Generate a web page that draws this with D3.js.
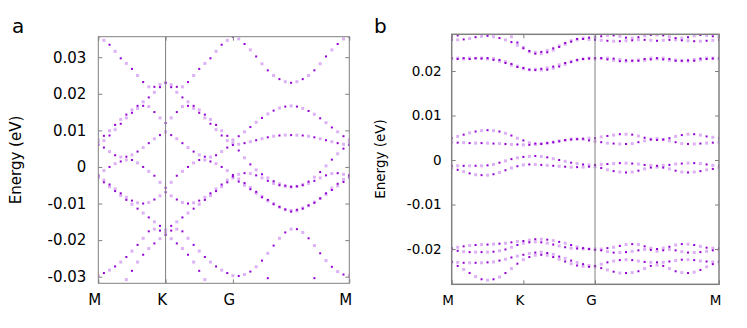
<!DOCTYPE html>
<html>
<head>
<meta charset="utf-8">
<script src="https://cdn.jsdelivr.net/npm/d3@7"></script>
<style>
body { margin: 0; background: #fff; }
</style>
</head>
<body>
<svg id="chart" width="747" height="328"></svg>
<script>
// band energies in meV, sampled on the k path M-K (12 steps), K-G (12 steps), G-M (20 steps)
var kLabels = ["M", "K", "G", "M"];
var kTicks = [0, 1, 2, 3.73];
var kSteps = [12, 12, 20];
var yTicksA = [-0.03, -0.02, -0.01, 0, 0.01, 0.02, 0.03];
var yTicksB = [-0.02, -0.01, 0, 0.01, 0.02];

// panel a
var bandA1 = [35.6,34.6,33.4,31.6,29.7,28.3,26.8,25.0,23.2,21.9,21.9,22.5,23.0,
  22.5,21.9,21.9,23.2,25.0,26.8,28.3,29.7,31.6,33.4,34.6,35.6,
  35.0,33.6,32.0,30.2,28.2,26.4,25.0,24.0,23.3,23.0,23.3,24.0,25.0,26.4,28.2,30.2,32.0,33.6,35.0,35.6];
var bandA2 = [7.4,8.5,9.9,11.5,13.0,14.3,15.6,16.7,17.8,19.0,20.4,21.8,23.0,
  21.8,20.4,19.0,17.8,16.7,15.6,14.3,13.0,11.5,9.9,8.5,7.4,
  8.4,9.6,10.9,12.2,13.4,14.5,15.4,16.1,16.5,16.7,16.5,16.0,15.3,14.4,13.3,12.1,10.8,9.6,8.4,7.4];
var bandA3 = [6.0,7.2,8.6,10.2,11.8,13.4,14.8,16.0,16.7,16.5,15.0,13.4,12.0,
  13.4,15.0,16.5,16.7,16.0,14.8,13.4,11.8,10.2,8.6,7.2,6.0,
  6.2,6.5,6.9,7.3,7.7,8.1,8.4,8.6,8.7,8.7,8.7,8.6,8.4,8.1,7.7,7.3,6.9,6.5,6.2,6.0];
var bandA4 = [6.6,5.3,4.2,3.2,2.7,2.8,3.3,4.2,5.3,6.5,7.7,8.7,9.6,
  8.7,7.7,6.5,5.3,4.2,3.3,2.8,2.7,3.2,4.2,5.3,6.6,
  4.5,2.5,0.7,-0.8,-2.0,-3.0,-3.9,-4.6,-5.1,-5.5,-5.3,-4.8,-4.0,-2.8,-1.4,0.3,2.0,3.6,5.0,6.6];
var bandA5 = [-2.2,-1.0,0.0,0.9,1.5,1.9,1.9,1.1,0.0,-1.2,-2.4,-4.2,-5.7,
  -4.2,-2.4,-1.2,0.0,1.1,1.9,1.9,1.5,0.9,0.0,-1.0,-2.2,
  -3.3,-4.4,-5.6,-6.8,-8.0,-9.0,-10.0,-10.9,-11.7,-12.2,-12.0,-11.4,-10.6,-9.8,-8.6,-7.2,-5.8,-4.6,-3.4,-2.2];
var bandA6 = [-3.0,-4.2,-5.4,-6.6,-7.8,-9.0,-10.2,-11.4,-12.6,-13.8,-15.0,-16.1,-17.2,
  -16.1,-15.0,-13.8,-12.6,-11.4,-10.2,-9.0,-7.8,-6.6,-5.4,-4.2,-3.0,
  -4.0,-5.0,-6.1,-7.2,-8.3,-9.3,-10.2,-11.0,-11.6,-11.9,-11.7,-11.2,-10.5,-9.6,-8.6,-7.5,-6.3,-5.2,-4.1,-3.0];
var bandA7 = [-2.6,-3.6,-4.8,-6.0,-7.2,-8.3,-9.2,-9.8,-10.0,-9.7,-8.9,-7.9,-6.9,
  -7.9,-8.9,-9.7,-10.0,-9.8,-9.2,-8.3,-7.2,-6.0,-4.8,-3.6,-2.6,
  -2.0,-1.7,-1.8,-2.3,-3.0,-3.8,-4.5,-5.0,-5.3,-5.4,-5.3,-5.0,-4.5,-3.8,-3.0,-2.3,-1.8,-1.7,-2.0,-2.6];
var bandA8 = [-29.7,-29.0,-28.2,-27.2,-26.0,-24.6,-23.0,-21.3,-19.5,-17.6,-17.0,-17.4,-18.0,
  -17.4,-17.0,-17.6,-19.5,-21.3,-23.0,-24.6,-26.0,-27.2,-28.2,-29.0,-29.7,
  -29.8,-29.4,-28.6,-27.3,-25.6,-23.6,-21.5,-19.5,-17.9,-17.0,-17.0,-17.9,-19.5,-21.5,-23.6,-25.6,-27.3,-28.6,-29.4,-29.7];
var bandA9 = [-40,-38,-36.5,-35,-33,-30.8,-28.4,-26.0,-24.0,-22.3,-20.9,-19.6,-18.6,
  -19.6,-20.9,-22.3,-24.0,-26.0,-28.4,-30.8,-33,-35,-36.5,-38,-40,
  -38,-36,-34.5,-33.4,-32.4,-30.4,-32.4,-33.4,-34.0,-34.2,-34.0,-33.4,-32.4,-30.4,-32.4,-33.4,-34.5,-36,-38,-40];

// panel b
var bandB1 = [27.0,27.0,27.1,27.3,27.6,27.8,27.9,27.7,27.4,27.0,26.5,25.8,25.1,24.3,23.9,23.9,24.2,24.7,25.4,26.0,26.6,27.0,27.2,27.1,27.0,
  26.9,26.8,26.7,26.7,26.8,26.9,27.0,27.0,26.9,26.8,26.9,27.0,27.0,26.9,26.8,26.7,26.7,26.8,26.9,27.0];
var bandB2 = [27.6,28.0,28.5,29.0,29.3,29.5,29.5,29.4,29.1,28.6,27.7,26.4,25.3,24.5,24.2,24.3,24.6,25.1,25.7,26.3,26.8,27.2,27.4,27.5,27.5,
  27.8,28.0,28.0,27.8,27.5,27.4,27.6,27.9,28.1,28.1,28.0,27.7,27.4,27.4,27.6,27.9,28.1,28.0,27.8,27.6];
var bandB3 = [22.9,22.9,22.9,22.9,22.9,22.9,22.9,22.8,22.5,22.1,21.6,21.1,20.7,20.3,20.2,20.2,20.3,20.6,21.0,21.5,22.0,22.4,22.7,22.9,22.9,
  22.8,22.6,22.4,22.2,22.2,22.3,22.5,22.7,22.9,22.9,22.9,22.7,22.5,22.3,22.2,22.3,22.5,22.7,22.9,22.9];
var bandB4 = [22.7,22.7,22.7,22.7,22.8,22.8,22.7,22.5,22.2,21.8,21.3,20.9,20.5,20.3,20.4,20.5,20.7,21.0,21.4,21.8,22.2,22.5,22.7,22.8,22.7,
  22.9,22.9,22.8,22.6,22.4,22.3,22.3,22.4,22.6,22.7,22.6,22.4,22.3,22.3,22.4,22.6,22.8,22.9,22.8,22.7];
var bandB5 = [4.9,5.3,5.7,6.1,6.4,6.6,6.7,6.6,6.4,6.0,5.5,4.9,4.4,3.9,3.7,3.7,3.8,4.0,4.2,4.4,4.6,4.7,4.8,4.9,4.9,
  5.2,5.4,5.6,5.8,5.8,5.7,5.4,5.0,4.7,4.5,4.6,4.9,5.3,5.6,5.8,5.8,5.6,5.3,5.1,4.9];
var bandB6 = [4.0,3.9,3.9,3.8,3.8,3.8,3.8,3.7,3.7,3.6,3.5,3.5,3.4,3.4,3.5,3.6,3.8,4.0,4.3,4.5,4.7,4.7,4.6,4.4,4.2,
  4.0,3.8,3.7,3.6,3.6,3.7,4.0,4.3,4.6,4.8,4.6,4.3,4.0,3.7,3.6,3.6,3.7,3.8,3.9,4.0];
var bandB7 = [-1.3,-1.3,-1.3,-1.3,-1.3,-1.3,-1.2,-1.0,-0.6,-0.2,0.2,0.5,0.7,0.8,0.9,0.8,0.6,0.3,0.0,-0.3,-0.6,-0.8,-1.0,-1.1,-1.1,
  -1.0,-0.9,-0.8,-0.7,-0.7,-0.8,-0.9,-1.1,-1.2,-1.3,-1.2,-1.1,-0.9,-0.8,-0.7,-0.7,-0.8,-1.0,-1.2,-1.3];
var bandB8 = [-1.8,-2.2,-2.6,-3.0,-3.3,-3.4,-3.4,-3.2,-2.8,-2.3,-1.8,-1.4,-1.1,-1.0,-1.0,-1.1,-1.2,-1.3,-1.4,-1.5,-1.6,-1.6,-1.6,-1.5,-1.5,
  -1.8,-2.2,-2.5,-2.7,-2.8,-2.7,-2.4,-2.0,-1.7,-1.6,-1.7,-2.0,-2.4,-2.7,-2.8,-2.7,-2.5,-2.2,-2.0,-1.8];
var bandB9 = [-19.8,-19.6,-19.4,-19.2,-19.1,-19.0,-19.0,-18.9,-18.8,-18.7,-18.5,-18.3,-18.2,-18.0,-17.8,-17.8,-17.9,-18.1,-18.4,-18.7,-19.1,-19.5,-19.8,-20.0,-20.2,
  -20.0,-19.8,-19.6,-19.3,-19.0,-18.9,-19.0,-19.4,-19.8,-20.0,-19.8,-19.5,-19.1,-18.9,-18.9,-19.1,-19.4,-19.7,-19.8,-19.8];
var bandB10 = [-20.2,-20.4,-20.6,-20.7,-20.7,-20.7,-20.7,-20.6,-20.4,-20.1,-19.6,-19.1,-18.7,-18.5,-18.4,-18.5,-18.7,-19.0,-19.3,-19.6,-19.8,-19.9,-20.0,-20.0,-20.0,
  -20.3,-20.6,-20.8,-20.8,-20.7,-20.5,-20.3,-20.1,-20.2,-20.5,-20.3,-20.1,-20.3,-20.6,-20.8,-20.8,-20.7,-20.5,-20.3,-20.2];
var bandB11 = [-22.9,-23.0,-23.1,-23.1,-23.1,-23.1,-23.0,-22.9,-22.6,-22.3,-21.9,-21.6,-21.3,-21.0,-20.8,-20.7,-20.9,-21.2,-21.7,-22.1,-22.6,-23.0,-23.4,-23.7,-23.8,
  -23.4,-23.0,-22.7,-22.5,-22.4,-22.5,-22.7,-22.9,-23.0,-23.0,-23.0,-22.8,-22.6,-22.4,-22.4,-22.5,-22.7,-22.8,-22.9,-22.9];
var bandB12 = [-22.9,-23.8,-24.6,-25.4,-26.2,-26.8,-27.0,-26.8,-26.3,-25.4,-24.4,-23.3,-22.4,-21.8,-21.4,-21.3,-21.4,-21.8,-22.3,-22.8,-23.3,-23.7,-23.9,-24.0,-24.0,
  -24.3,-24.7,-25.1,-25.4,-25.4,-25.3,-25.0,-24.4,-23.8,-23.6,-23.8,-24.4,-25.0,-25.3,-25.4,-25.2,-24.7,-24.0,-23.4,-22.9];

var bandsA = [bandA1, bandA2, bandA3, bandA4, bandA5, bandA6, bandA7, bandA8, bandA9];
var bandsB = [bandB1, bandB2, bandB3, bandB4, bandB5, bandB6, bandB7, bandB8, bandB9, bandB10, bandB11, bandB12];

// k value of every sample along the path
var kGrid = [];
kSteps.forEach(function(n, s) {
  var from = kTicks[s], to = kTicks[s + 1];
  d3.range(s === 0 ? 0 : 1, n + 1).forEach(function(j) { kGrid.push(from + (to - from) * j / n); });
});

var darkColor = "#9400d3",
    lightColor = "#ddb2f5",
    frameColor = "#808080";

var svg = d3.select("#chart");

function panel(o) {
  var x = d3.scaleLinear().domain([kTicks[0], kTicks[3]]).range([o.x0, o.x1]);
  var y = d3.scaleLinear().domain(o.ydom).range([o.y1, o.y0]);
  var g = svg.append("g");

  g.append("clipPath").attr("id", o.id + "-clip")
    .append("rect")
    .attr("x", o.x0).attr("y", o.y0)
    .attr("width", o.x1 - o.x0).attr("height", o.y1 - o.y0);

  // points: alternating small dark dots and light squares
  var pts = [];
  o.bands.forEach(function(b, bi) {
    b.forEach(function(v, i) {
      pts.push({ k: kGrid[i], e: v / 1000, dark: (i + bi) % 2 === 0 });
    });
  });

  var dots = g.append("g").attr("clip-path", "url(#" + o.id + "-clip)");
  dots.selectAll("rect.light")
    .data(pts.filter(function(d) { return !d.dark; }))
    .enter().append("rect")
    .attr("class", "light")
    .attr("x", function(d) { return x(d.k) - 1.5; })
    .attr("y", function(d) { return y(d.e) - 1.5; })
    .attr("width", 3).attr("height", 3)
    .attr("fill", lightColor);
  dots.selectAll("rect.dark")
    .data(pts.filter(function(d) { return d.dark; }))
    .enter().append("rect")
    .attr("class", "dark")
    .attr("x", function(d) { return x(d.k) - 1; })
    .attr("y", function(d) { return y(d.e) - 1; })
    .attr("width", 2).attr("height", 2)
    .attr("fill", darkColor);

  // vertical line at one high-symmetry point
  g.append("line")
    .attr("x1", x(kTicks[o.vline])).attr("x2", x(kTicks[o.vline]))
    .attr("y1", o.y0).attr("y2", o.y1)
    .attr("stroke", frameColor).attr("stroke-width", 1);

  var yAxis = g.append("g")
    .attr("transform", "translate(" + o.x0 + ",0)")
    .call(d3.axisLeft(y).tickValues(o.yticks).tickSize(-4).tickPadding(o.ypad)
      .tickFormat(function(d) { return String(d); }));
  var yAxisR = g.append("g")
    .attr("transform", "translate(" + o.x1 + ",0)")
    .call(d3.axisRight(y).tickValues(o.yticks).tickSize(-4).tickFormat(""));
  var xAxis = g.append("g")
    .attr("transform", "translate(0," + o.y1 + ")")
    .call(d3.axisBottom(x).tickValues(kTicks).tickSize(-4).tickPadding(11)
      .tickFormat(function(d, i) { return kLabels[i]; }));
  var xAxisT = g.append("g")
    .attr("transform", "translate(0," + o.y0 + ")")
    .call(d3.axisTop(x).tickValues(kTicks).tickSize(-4).tickFormat(""));

  [yAxis, yAxisR, xAxis, xAxisT].forEach(function(a) {
    a.select(".domain").remove();
    a.attr("font-family", "DejaVu Sans, sans-serif").attr("font-size", o.font);
    a.selectAll("line").attr("stroke", frameColor);
    a.selectAll("text").attr("fill", "#000");
  });
  xAxis.selectAll("text").attr("dx", -4);

  g.append("rect")
    .attr("x", o.x0).attr("y", o.y0)
    .attr("width", o.x1 - o.x0).attr("height", o.y1 - o.y0)
    .attr("fill", "none").attr("stroke", frameColor).attr("stroke-width", o.frame);

  g.append("text")
    .attr("transform", "translate(" + o.titleX + "," + o.titleY + ") rotate(-90)")
    .attr("text-anchor", "middle")
    .attr("font-family", "DejaVu Sans, sans-serif")
    .attr("font-size", o.font)
    .text("Energy (eV)");

  g.append("text")
    .attr("x", o.tagX).attr("y", 33)
    .attr("font-family", "DejaVu Sans, sans-serif")
    .attr("font-size", 20)
    .text(o.tag);
}

panel({ id: "a", tag: "a", tagX: 12, bands: bandsA, x0: 98.3, x1: 349.3, y0: 36.7, y1: 283.3,
  ydom: [-0.0318, 0.0356], yticks: yTicksA, ypad: 12, font: 15, vline: 1, frame: 1,
  titleX: 21, titleY: 160 });
panel({ id: "b", tag: "b", tagX: 374, bands: bandsB, x0: 451.7, x1: 719, y0: 34.3, y1: 284.3,
  ydom: [-0.02793, 0.02825], yticks: yTicksB, ypad: 10, font: 13.5, vline: 2, frame: 1.5,
  titleX: 385, titleY: 159 });
</script>
</body>
</html>
